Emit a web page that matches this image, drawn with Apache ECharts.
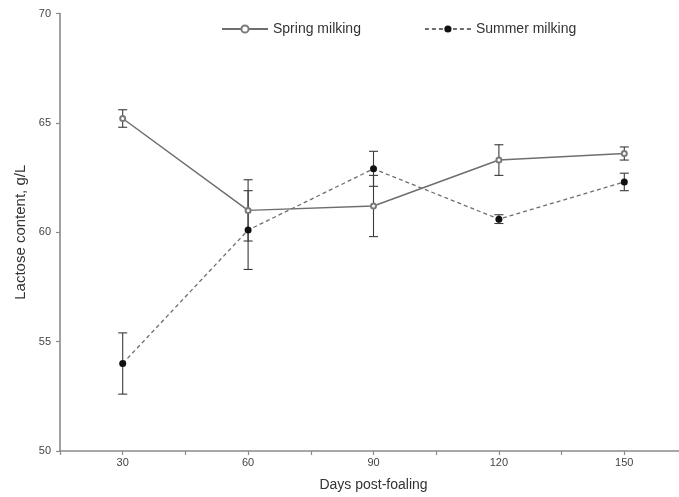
<!DOCTYPE html>
<html>
<head>
<meta charset="utf-8">
<script src="https://cdn.jsdelivr.net/npm/echarts@6/dist/echarts.min.js"></script>
<style>
html,body{margin:0;padding:0;background:#fff;overflow:hidden;}
#chart{width:700px;height:497px;}
</style>
</head>
<body>
<div id="chart"></div>
<script>
var days = [30, 60, 90, 120, 150];
var springMean = [65.2, 61.0, 61.2, 63.3, 63.6];
var springErr  = [0.4, 1.4, 1.4, 0.7, 0.3];
var summerMean = [54.0, 60.1, 62.9, 60.6, 62.3];
var summerErr  = [1.4, 1.8, 0.8, 0.2, 0.4];
var xTickLabels = [30, 60, 90, 120, 150];
var yTickLabels = [50, 55, 60, 65, 70];

var FONT = '"Liberation Sans", Arial, sans-serif';
var TICKFONT = '"Liberation Sans Narrow", "Liberation Sans", Arial, sans-serif';

function pairs(xs, ys){ return xs.map(function(x,i){ return [x, ys[i]]; }); }
function errData(xs, m, e){ return xs.map(function(x,i){ return [x, m[i]-e[i], m[i]+e[i]]; }); }

function errRender(params, api){
  var x = api.value(0);
  var lo = api.coord([x, api.value(1)]);
  var hi = api.coord([x, api.value(2)]);
  var w = 4.5;
  var st = {stroke:'#3a3a3a', lineWidth:1.1};
  return {type:'group', children:[
    {type:'line', shape:{x1:lo[0], y1:lo[1], x2:hi[0], y2:hi[1]}, style:st},
    {type:'line', shape:{x1:lo[0]-w, y1:lo[1], x2:lo[0]+w, y2:lo[1]}, style:st},
    {type:'line', shape:{x1:hi[0]-w, y1:hi[1], x2:hi[0]+w, y2:hi[1]}, style:st}
  ]};
}

var chart = echarts.init(document.getElementById('chart'));
chart.setOption({
  animation:false,
  backgroundColor:'#fff',
  grid:{left:60, right:13, top:13.5, bottom:44, containLabel:false},
  legend:{
    left:216, top:17, itemWidth:46, itemHeight:9, itemGap:63,
    textStyle:{fontFamily:FONT, fontSize:14, color:'#333'},
    data:['Spring milking','Summer milking']
  },
  xAxis:{
    type:'value', min:15, max:165, interval:15,
    name:'Days post-foaling', nameLocation:'middle', nameGap:27,
    nameTextStyle:{fontFamily:FONT, fontSize:14, color:'#333'},
    axisLine:{lineStyle:{color:'#8a8a8a', width:1.6}},
    axisTick:{show:true, length:4, lineStyle:{color:'#8a8a8a', width:1.2}},
    axisLabel:{margin:6, fontFamily:TICKFONT, fontSize:11, color:'#444',
      formatter:function(v){ return xTickLabels.indexOf(v) >= 0 ? String(v) : ''; }},
    splitLine:{show:false}
  },
  yAxis:{
    type:'value', min:50, max:70, interval:5,
    name:'Lactose content, g/L', nameLocation:'middle', nameGap:31,
    nameTextStyle:{fontFamily:FONT, fontSize:15, color:'#333'},
    axisLine:{show:true, lineStyle:{color:'#8a8a8a', width:1.6}},
    axisTick:{show:true, length:4, lineStyle:{color:'#8a8a8a', width:1.2}},
    axisLabel:{margin:9, fontFamily:TICKFONT, fontSize:11, color:'#444',
      formatter:function(v){ return yTickLabels.indexOf(v) >= 0 ? String(v) : ''; }},
    splitLine:{show:false}
  },
  series:[
    {type:'custom', name:'springErr', renderItem:errRender, data:errData(days, springMean, springErr), z:1, silent:true},
    {type:'custom', name:'summerErr', renderItem:errRender, data:errData(days, summerMean, summerErr), z:1, silent:true},
    {type:'line', name:'Spring milking', data:pairs(days, springMean),
      symbol:'emptyCircle', symbolSize:5,
      lineStyle:{color:'#6e6e6e', width:1.5},
      itemStyle:{color:'#7a7a7a', borderColor:'#7a7a7a', borderWidth:1},
      z:3},
    {type:'line', name:'Summer milking', data:pairs(days, summerMean),
      symbol:'circle', symbolSize:7,
      lineStyle:{color:'#6e6e6e', width:1.3, type:[4,3]},
      itemStyle:{color:'#111', borderColor:'#111', borderWidth:0},
      z:4}
  ]
});
</script>
</body>
</html>
